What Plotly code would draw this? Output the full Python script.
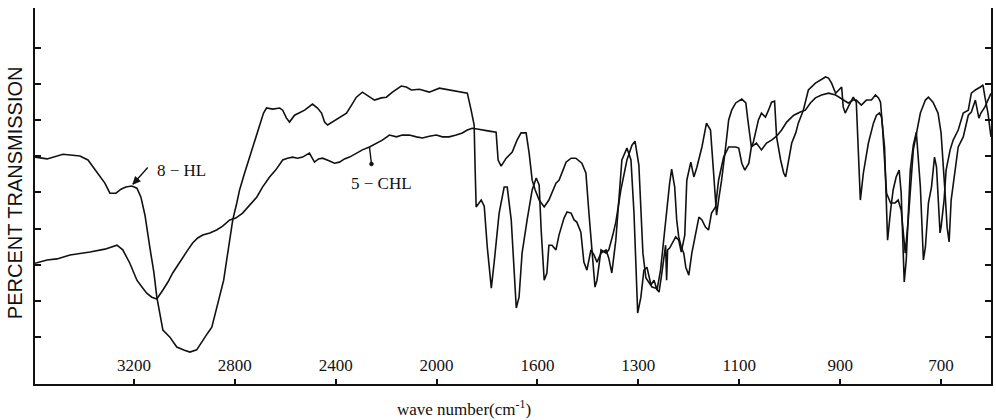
import numpy as np
import plotly.graph_objects as go

# ---- axis: tick labels of the (non-linear) wave-number scale ----
TICK_WN = [3200, 2800, 2400, 2000, 1600, 1300, 1100, 900, 700]
# knots of the chart's abscissa: wave number -> division index
SCALE_WN = [600, 700, 900, 1100, 1300, 1600, 2000, 2400, 2800, 3200, 3600]
SCALE_DIV = [8.5, 8, 7, 6, 5, 4, 3, 2, 1, 0, -1]
Y_TICKS = [0, 10, 20, 30, 40, 50, 60, 70, 80, 90]

# ---- spectrum 8-HL ----
HL8_WN = [3592, 3544, 3481, 3414, 3382, 3362, 3335, 3315, 3295, 3271,
          3251, 3232, 3208, 3188, 3172, 3156, 3137, 3121, 3109, 3097,
          3085, 3058, 3030, 3002, 2978, 2951, 2927, 2907, 2891, 2876,
          2860, 2844, 2832, 2820, 2808, 2792, 2781, 2761, 2741, 2721,
          2701, 2686, 2674, 2650, 2622, 2610, 2595, 2583, 2563, 2543,
          2523, 2492, 2472, 2456, 2444, 2432, 2413, 2385, 2357, 2337,
          2318, 2294, 2266, 2246, 2219, 2199, 2175, 2140, 2120, 2100,
          2068, 2029, 1989, 1950, 1910, 1878, 1863, 1851, 1847, 1843,
          1823, 1811, 1799, 1783, 1772, 1752, 1732, 1720, 1704, 1692,
          1684, 1673, 1661, 1641, 1621, 1605, 1595, 1589, 1580, 1572,
          1566, 1557, 1545, 1536, 1521, 1512, 1500, 1491, 1483, 1471,
          1462, 1453, 1441, 1432, 1423, 1411, 1396, 1388, 1379, 1367,
          1358, 1349, 1334, 1322, 1313, 1307, 1302, 1295, 1289, 1283,
          1275, 1269, 1263, 1256, 1250, 1244, 1238, 1234, 1228, 1224,
          1220, 1215, 1210, 1206, 1200, 1194, 1186, 1180, 1174, 1167,
          1161, 1155, 1147, 1141, 1131, 1121, 1107, 1101, 1095, 1089,
          1081, 1076, 1066, 1056, 1046, 1036, 1026, 1016, 1006, 992,
          979, 969, 959, 949, 937, 923, 909, 894, 884, 874,
          868, 858, 848, 838, 830, 824, 820, 816, 812, 808,
          800, 791, 785, 779, 771, 765, 755, 741, 731, 725,
          716, 706, 700, 696, 692, 688, 684, 680, 672, 666,
          656, 646, 640, 632, 625, 621, 613, 607, 601]
HL8_T = [59.8, 59.3, 60.6, 60.1, 59.0, 57.0, 54.5, 52.6, 49.8, 49.8,
         50.9, 51.5, 51.8, 51.2, 48.7, 43.7, 34.9, 28.0, 21.0, 16.0,
         11.9, 10.0, 7.2, 6.4, 5.8, 6.4, 9.1, 11.1, 12.7, 16.6,
         21.0, 25.7, 31.3, 36.8, 42.4, 47.1, 50.7, 55.4, 59.8, 64.5,
         69.2, 72.0, 73.4, 73.1, 73.4, 72.8, 70.6, 69.5, 71.4, 72.0,
         72.8, 74.5, 73.4, 72.0, 69.5, 68.7, 69.5, 70.6, 72.0, 74.2,
         76.4, 77.8, 76.4, 75.6, 76.2, 76.4, 77.8, 79.5, 79.2, 78.4,
         78.6, 77.8, 78.9, 78.4, 77.8, 77.5, 72.8, 68.7, 56.2, 46.0,
         47.9, 46.2, 34.9, 23.5, 30.4, 44.3, 51.5, 51.5, 42.4, 25.7,
         18.0, 21.0, 33.2, 42.4, 50.7, 54.0, 52.1, 39.6, 25.7, 27.7,
         35.4, 35.4, 34.1, 38.2, 42.9, 44.6, 44.3, 42.4, 41.8, 39.0,
         30.7, 28.5, 34.1, 32.7, 30.7, 33.2, 34.1, 31.8, 27.7, 36.8,
         47.9, 59.0, 62.3, 59.0, 44.3, 31.3, 16.6, 21.0, 28.5, 29.3,
         24.4, 25.7, 23.0, 28.5, 36.8, 46.0, 52.6, 56.5, 51.5, 42.4,
         37.7, 34.9, 33.2, 29.3, 27.1, 33.2, 38.8, 43.2, 42.4, 40.4,
         39.6, 44.3, 46.0, 53.4, 59.8, 62.6, 62.6, 62.3, 58.1, 56.2,
         58.1, 62.6, 63.7, 61.8, 63.7, 64.5, 65.6, 67.3, 69.5, 71.4,
         72.3, 72.8, 74.8, 76.2, 77.0, 77.5, 77.0, 75.6, 74.8, 75.6,
         75.6, 74.2, 75.6, 75.6, 77.0, 76.2, 75.0, 68.1, 59.0, 49.8,
         47.1, 47.1, 47.9, 45.1, 33.2, 42.4, 61.8, 72.0, 75.6, 76.4,
         75.0, 72.0, 66.5, 59.0, 49.8, 40.4, 36.3, 47.9, 57.0, 62.6,
         65.4, 71.4, 72.3, 75.6, 70.6, 72.0, 73.7, 75.6, 77.5]

# ---- spectrum 5-CHL ----
CHL5_WN = [3592, 3544, 3505, 3453, 3374, 3315, 3267, 3244, 3216, 3188,
           3168, 3149, 3129, 3109, 3085, 3065, 3046, 3026, 3006, 2986,
           2967, 2947, 2927, 2899, 2872, 2848, 2820, 2796, 2769, 2741,
           2713, 2690, 2662, 2638, 2610, 2591, 2571, 2551, 2531, 2504,
           2484, 2468, 2452, 2424, 2405, 2385, 2365, 2345, 2318, 2294,
           2266, 2238, 2215, 2187, 2159, 2136, 2108, 2080, 2056, 2029,
           2001, 1977, 1950, 1922, 1898, 1878, 1859, 1839, 1819, 1791,
           1764, 1756, 1744, 1724, 1700, 1681, 1665, 1645, 1633, 1621,
           1609, 1595, 1580, 1566, 1545, 1536, 1524, 1515, 1500, 1486,
           1468, 1456, 1447, 1438, 1429, 1423, 1411, 1396, 1388, 1376,
           1367, 1352, 1334, 1319, 1310, 1299, 1295, 1291, 1285, 1279,
           1273, 1265, 1259, 1254, 1248, 1246, 1244, 1242, 1238, 1232,
           1226, 1220, 1215, 1208, 1204, 1196, 1190, 1184, 1174, 1165,
           1157, 1151, 1145, 1141, 1135, 1127, 1121, 1115, 1107, 1095,
           1087, 1083, 1077, 1076, 1072, 1062, 1056, 1048, 1042, 1036,
           1030, 1028, 1026, 1018, 1012, 1008, 1002, 996, 988, 983,
           973, 963, 949, 939, 929, 923, 917, 909, 903, 897,
           894, 890, 884, 874, 868, 864, 860, 854, 844, 834,
           828, 822, 818, 812, 808, 806, 800, 795, 789, 783,
           779, 775, 773, 769, 765, 761, 755, 749, 741, 735,
           731, 725, 719, 713, 709, 706, 702, 700, 694, 690,
           682, 676, 666, 656, 646, 640, 632, 622, 617, 613,
           607, 601]
CHL5_T = [30.4, 31.3, 31.6, 32.7, 33.5, 34.3, 35.4, 34.1, 30.4, 25.7,
          23.8, 22.1, 21.0, 20.5, 23.0, 25.2, 27.7, 29.9, 32.1, 34.1,
          36.0, 37.4, 38.2, 38.8, 39.6, 40.7, 42.4, 42.9, 44.3, 46.5,
          48.7, 51.5, 54.3, 56.2, 59.0, 59.5, 59.8, 59.5, 59.8, 60.9,
          58.4, 59.3, 59.5, 58.7, 58.1, 58.4, 59.3, 59.8, 60.9, 61.8,
          62.6, 63.7, 64.5, 65.9, 65.4, 65.9, 65.9, 65.4, 65.1, 65.6,
          65.9, 65.4, 65.4, 65.9, 66.5, 67.3, 67.8, 67.6, 67.3, 67.0,
          66.7, 59.0, 57.3, 59.5, 61.2, 64.5, 66.5, 66.5, 60.9, 53.4,
          50.7, 47.9, 46.0, 47.9, 52.6, 53.4, 56.2, 58.4, 59.5, 59.5,
          58.1, 55.4, 44.3, 33.2, 23.8, 25.7, 34.1, 33.2, 34.1, 38.2,
          41.8, 50.7, 59.0, 63.1, 64.2, 57.6, 44.3, 33.2, 26.3, 24.9,
          23.8, 23.5, 22.4, 27.1, 32.7, 35.4, 25.7, 34.1, 34.6, 36.0,
          37.7, 36.8, 33.5, 38.2, 53.4, 58.4, 54.3, 57.0, 62.6, 69.2,
          67.3, 55.7, 43.7, 47.9, 53.4, 62.6, 70.1, 72.8, 74.8, 75.9,
          74.8, 70.1, 64.5, 62.6, 64.0, 70.1, 72.0, 70.9, 72.8, 75.0,
          75.3, 70.9, 65.4, 59.0, 55.4, 54.3, 59.0, 63.7, 66.5, 69.2,
          72.8, 78.4, 80.3, 81.1, 82.0, 81.7, 80.3, 77.5, 78.4, 79.2,
          73.7, 72.0, 73.7, 76.4, 75.0, 61.8, 47.9, 55.4, 63.7, 69.2,
          71.4, 72.0, 70.9, 62.6, 45.1, 36.8, 45.1, 50.7, 54.3, 56.2,
          49.8, 34.9, 25.2, 31.3, 43.7, 56.2, 63.1, 66.7, 51.5, 31.3,
          34.9, 47.1, 51.5, 59.8, 57.0, 47.9, 38.8, 40.4, 47.9, 56.2,
          61.8, 64.5, 67.3, 72.0, 72.8, 77.5, 78.4, 79.2, 79.8, 76.4,
          72.0, 65.4]

# label / pointer anchors (wave number, %T)
HL8_LABEL = (3010, 56.2)
CHL5_LABEL = (2219, 52.6)
HL8_ARROW = ((3145, 56.9), (3204, 52.3))     # tail, tip
CHL5_POINTER = ((2266, 62.6), (2258, 57.9))  # on curve, end dot


def to_div(wn):
    """Chart abscissa: piecewise-linear wave-number scale."""
    return np.interp(np.asarray(wn, dtype=float), SCALE_WN, SCALE_DIV)


def fx(wn):
    return float(to_div(wn))


INK = "#111111"
LINE = dict(color=INK, width=1.6)
SERIF = "Liberation Serif, Times New Roman, serif"

fig = go.Figure()
fig.add_trace(go.Scatter(x=to_div(HL8_WN), y=HL8_T, mode="lines",
                         line=LINE, name="8-HL", showlegend=False))
fig.add_trace(go.Scatter(x=to_div(CHL5_WN), y=CHL5_T, mode="lines",
                         line=LINE, name="5-CHL", showlegend=False))

(t_wn, t_t), (h_wn, h_t) = HL8_ARROW
(p0_wn, p0_t), (p1_wn, p1_t) = CHL5_POINTER
shapes = [
    # 8-HL arrow shaft + head
    dict(type="line", x0=fx(t_wn), y0=t_t, x1=fx(h_wn), y1=h_t,
         line=dict(color=INK, width=1.4)),
    dict(type="path", xsizemode="pixel", ysizemode="pixel",
         xanchor=fx(h_wn), yanchor=h_t,
         path="M 0 0 L 7.5 3.0 L 2.4 7.6 Z",
         fillcolor=INK, line=dict(color=INK, width=0.8)),
    # 5-CHL pointer + dot
    dict(type="line", x0=fx(p0_wn), y0=p0_t, x1=fx(p1_wn), y1=p1_t,
         line=dict(color=INK, width=1.4)),
    dict(type="circle", xsizemode="pixel", ysizemode="pixel",
         xanchor=fx(p1_wn), yanchor=p1_t, x0=-2, x1=2, y0=-2, y1=2,
         fillcolor=INK, line=dict(color=INK, width=0.5)),
]

fig.update_layout(
    width=996, height=420,
    margin=dict(l=35, r=3, t=8, b=36),
    paper_bgcolor="white", plot_bgcolor="white",
    xaxis=dict(
        range=[fx(3592), fx(601)],
        tickvals=list(to_div(TICK_WN)),
        ticktext=[str(v) for v in TICK_WN],
        ticks="inside", ticklen=5, tickwidth=1.5, tickcolor=INK,
        ticklabelposition="inside", ticklabelstandoff=5,
        tickfont=dict(family=SERIF, size=17, color=INK),
        showline=True, linecolor=INK, linewidth=1.5,
        showgrid=False, zeroline=False, mirror=False,
    ),
    yaxis=dict(
        range=[-3.05, 101.1],
        tickvals=Y_TICKS, showticklabels=False,
        ticks="inside", ticklen=6, tickwidth=1.5, tickcolor=INK,
        showline=True, linecolor=INK, linewidth=1.5,
        showgrid=False, zeroline=False, mirror="ticks",
    ),
    shapes=shapes,
    annotations=[
        dict(text="PERCENT TRANSMISSION", xref="paper", yref="paper",
             x=-0.021, y=0.51, xanchor="center", yanchor="middle",
             textangle=-90, showarrow=False,
             font=dict(family="Liberation Sans, Arial, sans-serif", size=20, color=INK)),
        dict(text="wave number(cm<sup>-1</sup>)", xref="paper", yref="paper",
             x=0.449, y=-0.064, xanchor="center", yanchor="middle", showarrow=False,
             font=dict(family=SERIF, size=17, color=INK)),
        dict(text="8 − HL", x=fx(HL8_LABEL[0]), y=HL8_LABEL[1],
             xanchor="center", yanchor="middle", showarrow=False,
             font=dict(family=SERIF, size=17, color=INK)),
        dict(text="5 − CHL", x=fx(CHL5_LABEL[0]), y=CHL5_LABEL[1],
             xanchor="center", yanchor="middle", showarrow=False,
             font=dict(family=SERIF, size=17, color=INK)),
    ],
)

fig.write_html("out.html", config={"displayModeBar": False},
               post_script="document.body.style.margin='0';")
